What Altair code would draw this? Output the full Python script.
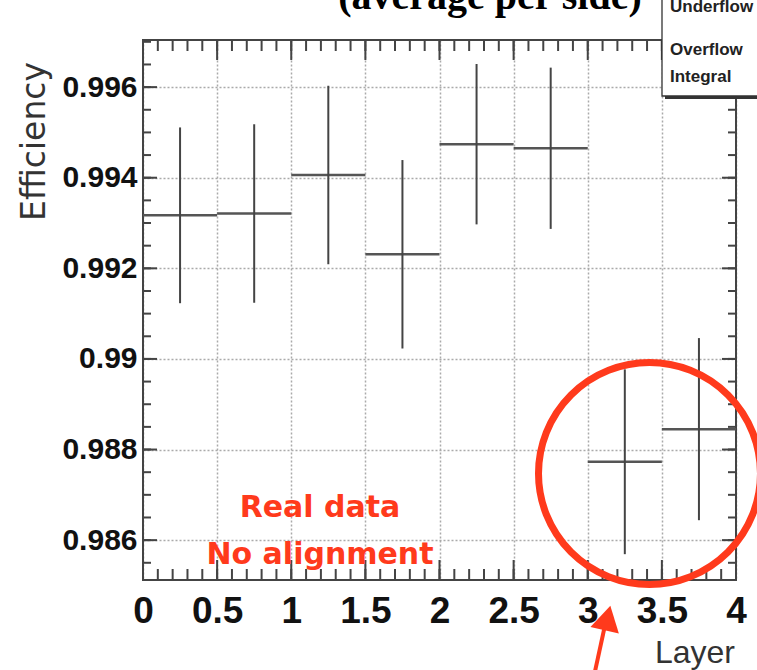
import altair as alt
import pandas as pd

# ---- data ----
bin_lo = [0.0, 0.5, 1.0, 1.5, 2.0, 2.5, 3.0, 3.5]
bin_hi = [0.5, 1.0, 1.5, 2.0, 2.5, 3.0, 3.5, 4.0]
bin_mid = [0.25, 0.75, 1.25, 1.75, 2.25, 2.75, 3.25, 3.75]
efficiency = [0.99317, 0.99321, 0.99406, 0.99231, 0.99474, 0.99465, 0.98773, 0.98845]
eff_err = [0.00194, 0.00197, 0.00197, 0.00208, 0.00177, 0.00178, 0.00204, 0.00201]

x_major = [0, 0.5, 1, 1.5, 2, 2.5, 3, 3.5, 4]
x_minor = [round(i * 0.1, 1) for i in range(41)]
y_major = [0.986, 0.988, 0.99, 0.992, 0.994, 0.996]
y_minor = [round(0.9855 + i * 0.0005, 4) for i in range(24)]

title_text = ["(average per side)"]
legend_lines = ["Underflow", "Overflow", "Integral"]
note_lines = ["Real data", "No alignment"]

W, H = 593, 540
RED = "#FF3A1C"
AX = "#444444"

df = pd.DataFrame({
    "lo": bin_lo, "hi": bin_hi, "mid": bin_mid, "eff": efficiency,
    "elo": [e - d for e, d in zip(efficiency, eff_err)],
    "ehi": [e + d for e, d in zip(efficiency, eff_err)],
})

xs = alt.Scale(domain=[0, 4], nice=False, zero=False)
ys = alt.Scale(domain=[0.98512, 0.99704], nice=False, zero=False)

xaxis = alt.Axis(values=x_major, labelExpr="format(datum.value, '.1~f')", title=None,
                 ticks=False, domain=False, grid=True, gridColor="#aaaaaa",
                 gridDash=[2, 2], gridWidth=1.5,
                 labelFont="Liberation Sans",
                 labelFontSize=37, labelFontWeight="bold", labelColor="#111111",
                 labelBaseline="alphabetic", labelPadding=42, labelFlush=False)
yaxis = alt.Axis(values=y_major, labelExpr="format(datum.value, '.3~f')", title=None,
                 ticks=False, domain=False, grid=True, gridColor="#aaaaaa",
                 gridDash=[2, 2], gridWidth=1.5,
                 labelFont="Liberation Sans",
                 labelFontSize=30, labelFontWeight="bold", labelColor="#111111",
                 labelPadding=6, labelFlush=False)


def X(f):
    return alt.X(f, type="quantitative", scale=xs, axis=xaxis)


def Y(f):
    return alt.Y(f, type="quantitative", scale=ys, axis=yaxis)


one = pd.DataFrame({"a": [0]})

frame = alt.Chart(one).mark_rect(fillOpacity=0, stroke=AX, strokeWidth=2).encode(
    x=alt.value(0), x2=alt.value(W), y=alt.value(0), y2=alt.value(H))

dy_min = pd.DataFrame({"v": y_minor})
dy_maj = pd.DataFrame({"v": y_major})
dx_min = pd.DataFrame({"v": x_minor})
dx_maj = pd.DataFrame({"v": x_major})

tk = dict(color=AX, strokeWidth=2)
ticks = [
    alt.Chart(dy_min).mark_rule(**tk).encode(y=Y("v"), x=alt.value(0), x2=alt.value(8)),
    alt.Chart(dy_maj).mark_rule(**tk).encode(y=Y("v"), x=alt.value(0), x2=alt.value(14)),
    alt.Chart(dy_min).mark_rule(**tk).encode(y=Y("v"), x=alt.value(W - 8), x2=alt.value(W)),
    alt.Chart(dy_maj).mark_rule(**tk).encode(y=Y("v"), x=alt.value(W - 14), x2=alt.value(W)),
    alt.Chart(dx_min).mark_rule(**tk).encode(x=X("v"), y=alt.value(H - 11), y2=alt.value(H)),
    alt.Chart(dx_maj).mark_rule(**tk).encode(x=X("v"), y=alt.value(H - 20), y2=alt.value(H)),
    alt.Chart(dx_min).mark_rule(**tk).encode(x=X("v"), y=alt.value(0), y2=alt.value(11)),
    alt.Chart(dx_maj).mark_rule(**tk).encode(x=X("v"), y=alt.value(0), y2=alt.value(20)),
]

hbars = alt.Chart(df).mark_rule(color="#555555", strokeWidth=2.5).encode(
    x=X("lo"), x2="hi", y=Y("eff"))
vbars = alt.Chart(df).mark_rule(color="#444444", strokeWidth=2).encode(
    x=X("mid"), y=Y("elo"), y2="ehi")

circle = alt.Chart(one).mark_point(shape="circle", filled=False, color=RED,
                                   strokeWidth=7, size=49284, opacity=1).encode(
    x=alt.value(506.5), y=alt.value(433.5))

notes = alt.Chart(pd.DataFrame({"t": note_lines, "yy": [477, 524]})).mark_text(
    font="DejaVu Sans", fontSize=30, fontWeight="bold", color=RED,
    align="center", baseline="alphabetic").encode(
    text="t:N", x=alt.value(177), y=alt.Y("yy:Q", scale=None))

shadow = alt.Chart(one).mark_rect(fill="#333333").encode(
    x=alt.value(522), x2=alt.value(640), y=alt.value(-60), y2=alt.value(59))
box = alt.Chart(one).mark_rect(fill="white", stroke="#333333", strokeWidth=1.3).encode(
    x=alt.value(519), x2=alt.value(640), y=alt.value(-60), y2=alt.value(56))
legend_txt = alt.Chart(pd.DataFrame({"t": legend_lines, "yy": [-28, 15, 42]})).mark_text(
    font="Liberation Sans", fontSize=17, fontWeight="bold", color="#222222",
    align="left", baseline="alphabetic").encode(
    text="t:N", x=alt.value(527), y=alt.Y("yy:Q", scale=None))

shaft = alt.Chart(one).mark_rule(color=RED, strokeWidth=4).encode(
    x=alt.value(451), y=alt.value(636), x2=alt.value(464), y2=alt.value(576))
head = alt.Chart(one).mark_point(shape="triangle-up", filled=True, color=RED,
                                 size=850, opacity=1, angle=13).encode(
    x=alt.value(464.5), y=alt.value(578))

title = alt.Chart(pd.DataFrame({"t": title_text})).mark_text(
    font="Liberation Serif", fontSize=40, fontWeight="bold", color="black",
    align="center", baseline="alphabetic").encode(
    text="t:N", x=alt.value(347), y=alt.value(-31))

ytitle = alt.Chart(pd.DataFrame({"t": ["Efficiency"]})).mark_text(
    font="DejaVu Sans", fontSize=33, color="#333333", angle=270,
    align="right", baseline="alphabetic").encode(
    text="t:N", x=alt.value(-98), y=alt.value(22))

xtitle = alt.Chart(pd.DataFrame({"t": ["Layer"]})).mark_text(
    font="Liberation Sans", fontSize=32, color="#333333",
    align="right", baseline="alphabetic").encode(
    text="t:N", x=alt.value(592), y=alt.value(623))

chart = alt.layer(
    frame, *ticks, hbars, vbars, notes, circle, shadow, box, legend_txt,
    shaft, head, title, ytitle, xtitle
).properties(
    width=W, height=H,
    autosize=alt.AutoSizeParams(type="none"),
    padding={"left": 143, "top": 40, "right": 21, "bottom": 90},
).configure_view(stroke=None).configure(background="white")

chart.save("out.html", embed_options={"renderer": "svg", "actions": False})
